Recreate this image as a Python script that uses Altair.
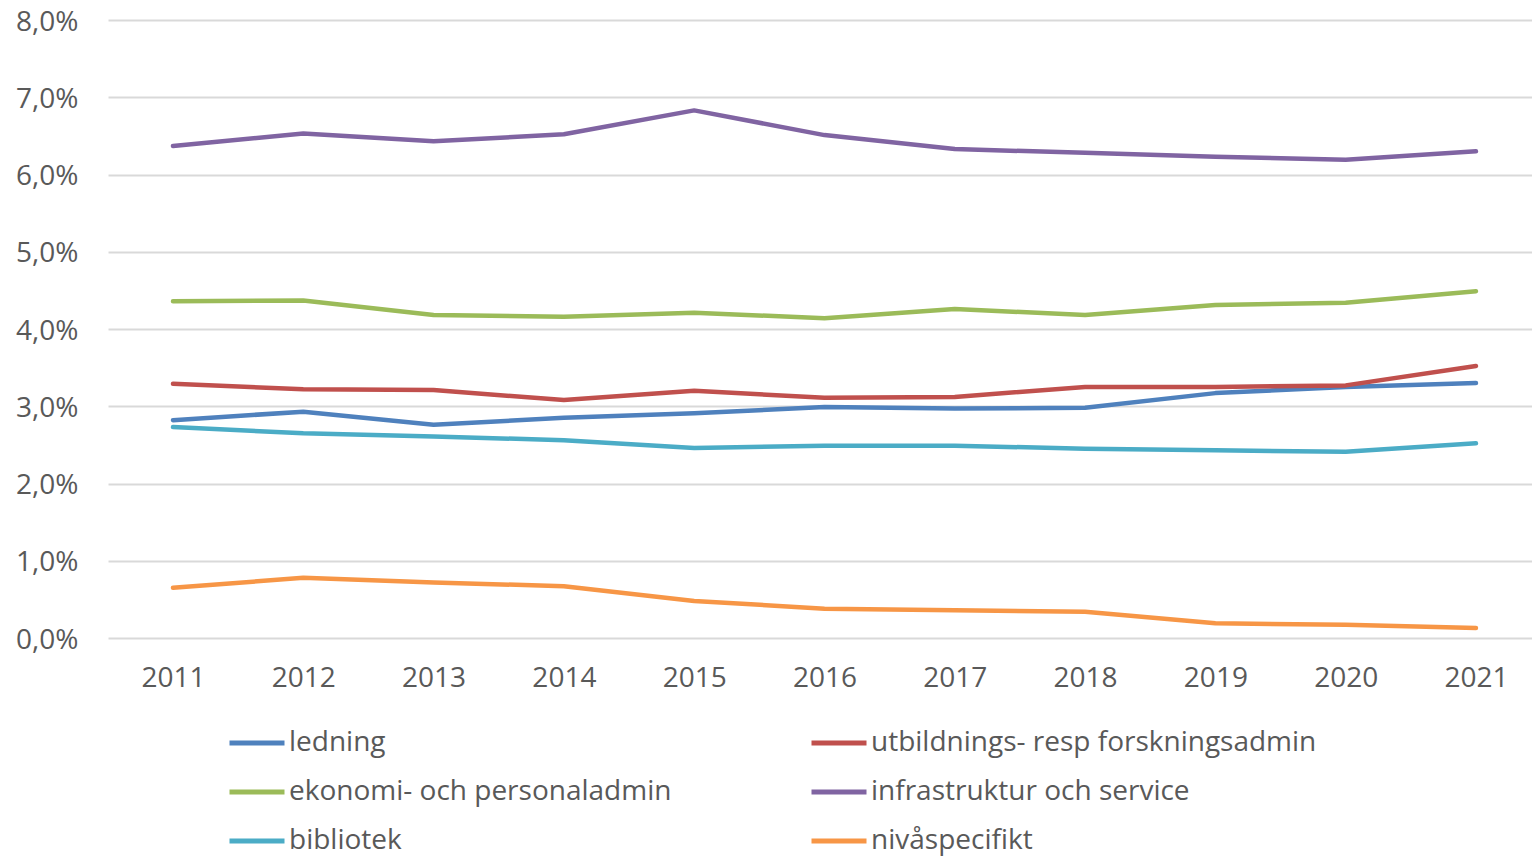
import altair as alt
import pandas as pd

years = [str(y) for y in range(2011, 2022)]
series = [
    "ledning",
    "utbildnings- resp forskningsadmin",
    "ekonomi- och personaladmin",
    "infrastruktur och service",
    "bibliotek",
    "nivåspecifikt",
]
colors = ["#4F81BD", "#C0504D", "#9BBB59", "#8064A2", "#4BACC6", "#F79646"]
# legend entries are laid out column by column
legend_order = [series[0], series[2], series[4], series[1], series[3], series[5]]

ledning = [2.82, 2.93, 2.76, 2.85, 2.91, 2.99, 2.97, 2.98, 3.17, 3.25, 3.30]
utbildning = [3.29, 3.22, 3.21, 3.08, 3.20, 3.11, 3.12, 3.25, 3.25, 3.27, 3.52]
ekonomi = [4.36, 4.37, 4.18, 4.16, 4.21, 4.14, 4.26, 4.18, 4.31, 4.34, 4.49]
infrastruktur = [6.37, 6.53, 6.43, 6.52, 6.83, 6.51, 6.33, 6.28, 6.23, 6.19, 6.30]
bibliotek = [2.73, 2.65, 2.61, 2.56, 2.46, 2.49, 2.49, 2.45, 2.43, 2.41, 2.52]
nivaspecifikt = [0.65, 0.78, 0.72, 0.67, 0.48, 0.38, 0.36, 0.34, 0.19, 0.17, 0.13]

all_values = [ledning, utbildning, ekonomi, infrastruktur, bibliotek, nivaspecifikt]
rows = []
for i, (name, vals) in enumerate(zip(series, all_values)):
    for y, v in zip(years, vals):
        rows.append({"year": y, "serie": name, "value": v / 100.0, "order": i})
df = pd.DataFrame(rows)

FONT = "Open Sans"
TEXT = "#595959"
FS = 28

chart = (
    alt.Chart(df)
    .mark_line(strokeWidth=4.5, strokeCap="round", strokeJoin="round")
    .encode(
        x=alt.X(
            "year:O",
            sort=years,
            scale=alt.Scale(padding=0.4644, align=0.537),
            axis=alt.Axis(
                title=None, labelAngle=0, domain=False, ticks=False, grid=False,
                labelFontSize=FS, labelColor=TEXT, labelFont=FONT, labelPadding=26,
            ),
        ),
        y=alt.Y(
            "value:Q",
            scale=alt.Scale(domain=[0, 0.08]),
            axis=alt.Axis(
                title=None, values=[i / 100 for i in range(9)],
                labelExpr="replace(format(datum.value, '.1%'), '.', ',')",
                domain=False, ticks=False, grid=True, gridColor="#D9D9D9", gridWidth=2,
                labelFontSize=FS, labelColor=TEXT, labelFont=FONT, labelPadding=30,
                labelOffset=2,
            ),
        ),
        color=alt.Color(
            "serie:N",
            sort=series,
            scale=alt.Scale(domain=series, range=colors),
            legend=alt.Legend(
                title=None, orient="none", legendX=119, legendY=693, columns=2,
                values=legend_order,
                symbolType="stroke", symbolSize=3025, symbolStrokeWidth=5,
                labelFontSize=FS, labelColor=TEXT, labelFont=FONT, labelOffset=2,
                columnPadding=129, rowPadding=5, labelLimit=600,
            ),
        ),
        order=alt.Order("order:Q"),
    )
    .properties(width=1424, height=618)
    .configure(autosize=alt.AutoSizeParams(type="none"),
               padding={"left": 100, "top": 12, "right": 0, "bottom": 219})
    .configure_view(stroke=None)
)

chart.save("out.html", embed_options={"renderer": "svg", "actions": False})
